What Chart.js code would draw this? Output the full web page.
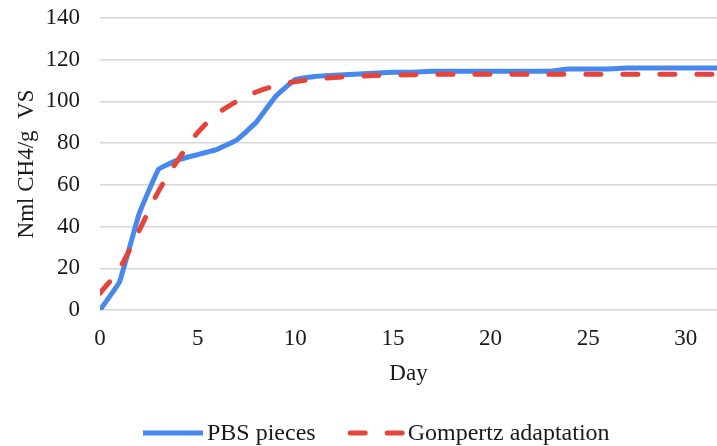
<!DOCTYPE html>
<html>
<head>
<meta charset="utf-8">
<title>Cumulative methane yield</title>
<script src="https://cdn.jsdelivr.net/npm/chart.js@4.4.1/dist/chart.umd.min.js"></script>
<style>
  html, body { margin: 0; padding: 0; background: #ffffff; }
  #wrap { position: relative; width: 717px; height: 446px; }
</style>
</head>
<body>
<div id="wrap"><canvas id="chart" width="717" height="446"></canvas></div>
<script>
// Incubation day
const days = [0, 1, 2, 3, 4, 5, 6, 7, 8, 9, 10, 11, 12, 13, 14, 15, 16,
              17, 18, 19, 20, 21, 22, 23, 24, 25, 26, 27, 28, 29, 30, 31, 32];

// Measured cumulative yield, Nml CH4/g VS
const pbsPieces = [0, 13.5, 46, 67.5, 72, 74.5, 77, 81.5, 90, 102.5, 110.5, 112, 112.5, 113, 113.5, 114, 114,
                   114.5, 114.5, 114.5, 114.5, 114.5, 114.5, 114.5, 115.5, 115.5, 115.5, 116, 116, 116, 116, 116, 116];

// Fitted Gompertz curve, Nml CH4/g VS
const gompertz = [8, 20, 38, 57, 72, 85, 94, 100, 104.5, 107.5, 109.5, 110.7, 111.5, 112, 112.4, 112.6, 112.8,
                  113, 113, 113, 113, 113, 113, 113, 113, 113, 113, 113, 113, 113, 113, 113, 113];

const seriesNames = ['PBS pieces', 'Gompertz adaptation'];
const xTitle = 'Day';
const yTitle = 'Nml CH4/g  VS';

const FONT = '"Liberation Serif", "Times New Roman", serif';
const INK = '#1a1a1a';

// Line key drawn under the plot: a sample stroke followed by the series name
const lineKey = {
  id: 'lineKey',
  afterDraw(chart) {
    const ctx = chart.ctx;
    const y = 433;
    ctx.save();
    ctx.font = '24px ' + FONT;
    ctx.textBaseline = 'middle';
    ctx.fillStyle = INK;
    const sampleW = [60, 57];
    const textGap = [4, 3];
    const itemGap = 32;
    let x = 143;
    chart.data.datasets.forEach((ds, i) => {
      ctx.save();
      ctx.strokeStyle = ds.borderColor;
      ctx.lineWidth = ds.borderWidth;
      ctx.lineCap = ds.borderCapStyle || 'butt';
      ctx.setLineDash(ds.borderDash || []);
      const inset = ctx.lineCap === 'round' ? ds.borderWidth / 2 : 0;
      ctx.beginPath();
      ctx.moveTo(x + inset, y);
      ctx.lineTo(x + sampleW[i] - inset, y);
      ctx.stroke();
      ctx.restore();
      x += sampleW[i] + textGap[i];
      ctx.fillText(ds.label, x, y + 1);
      x += ctx.measureText(ds.label).width + itemGap;
    });
    ctx.restore();
  }
};

new Chart(document.getElementById('chart'), {
  type: 'line',
  data: {
    datasets: [
      {
        label: seriesNames[0],
        data: days.map((d, i) => ({ x: d, y: pbsPieces[i] })),
        borderColor: '#4788EE',
        backgroundColor: '#4788EE',
        borderWidth: 5,
        pointRadius: 0,
        tension: 0.08,
        borderJoinStyle: 'round',
        order: 2
      },
      {
        label: seriesNames[1],
        data: days.map((d, i) => ({ x: d, y: gompertz[i] })),
        borderColor: '#E5443A',
        backgroundColor: '#E5443A',
        borderWidth: 5,
        borderDash: [15, 22],
        borderCapStyle: 'round',
        pointRadius: 0,
        cubicInterpolationMode: 'monotone',
        order: 1
      }
    ]
  },
  options: {
    responsive: false,
    animation: false,
    layout: { padding: { top: 18, right: 0, bottom: 56, left: 0 } },
    plugins: {
      legend: { display: false },
      tooltip: { enabled: false }
    },
    scales: {
      x: {
        type: 'linear',
        min: 0,
        max: 31.6,
        afterFit(scale) { scale.height = 80; },
        border: { display: false },
        grid: { display: false, drawTicks: false },
        ticks: {
          stepSize: 5,
          includeBounds: false,
          padding: 15,
          maxRotation: 0,
          color: INK,
          font: { family: FONT, size: 23 }
        },
        title: {
          display: true,
          text: xTitle,
          color: INK,
          font: { family: FONT, size: 23 },
          padding: { top: 0, bottom: 2 }
        }
      },
      y: {
        min: 0,
        max: 140,
        afterFit(scale) {
          scale.width = 100;
          scale.paddingTop = 0;
          scale.paddingBottom = 0;
        },
        border: { display: false },
        grid: { color: '#d6d6d6', lineWidth: 1.5, drawTicks: false },
        ticks: {
          stepSize: 20,
          padding: 20,
          color: INK,
          font: { family: FONT, size: 23 }
        },
        title: {
          display: true,
          text: yTitle,
          color: INK,
          font: { family: FONT, size: 23 },
          padding: { top: 13, bottom: 0 }
        }
      }
    }
  },
  plugins: [lineKey]
});
</script>
</body>
</html>
